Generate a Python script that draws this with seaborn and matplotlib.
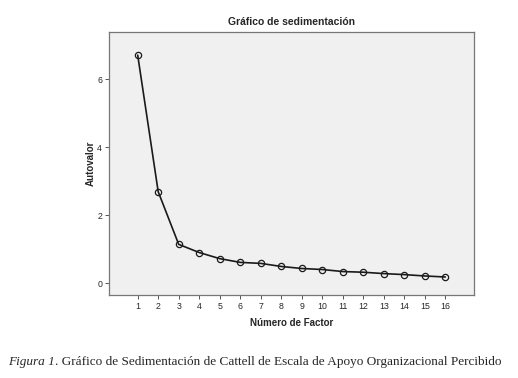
import matplotlib
matplotlib.use("Agg")
import matplotlib.pyplot as plt
import seaborn as sns
import pandas as pd

# datos del grafico de sedimentacion
factores = list(range(1, 17))
autovalores = [6.71, 2.69, 1.14, 0.90, 0.72, 0.61, 0.58, 0.49,
               0.43, 0.40, 0.34, 0.32, 0.28, 0.25, 0.21, 0.18]
y_ticks = [0, 2, 4, 6]

df = pd.DataFrame({"Factor": factores, "Autovalor": autovalores})

sns.set_style("ticks")
plt.rcParams["font.family"] = ["Liberation Sans", "DejaVu Sans"]

fig = plt.figure(figsize=(5.18, 3.78), dpi=100)
ax = fig.add_axes([0.2104, 0.2196, 0.7046, 0.6957])
ax.set_facecolor("#f0f0f0")

sns.lineplot(data=df, x="Factor", y="Autovalor", ax=ax, color="#1a1a1a",
             linewidth=1.2, marker="o", markersize=4.5,
             markerfacecolor="none", markeredgecolor="#1a1a1a",
             markeredgewidth=0.9)

ax.set_xlim(-0.4, 17.4)
ax.set_ylim(-0.35, 7.39)
ax.set_xticks(factores)
ax.set_yticks(y_ticks)
ax.tick_params(axis="both", labelsize=6.3, length=3, width=0.7,
               color="#555555", pad=2)

for s in ax.spines.values():
    s.set_visible(True)
    s.set_color("#777777")
    s.set_linewidth(0.9)

ax.set_title("Gráfico de sedimentación", fontsize=7.5, fontweight="bold", pad=5)
ax.set_xlabel("Número de Factor", fontsize=7, fontweight="bold", labelpad=5)
ax.set_ylabel("Autovalor", fontsize=7, fontweight="bold", labelpad=1)

# pie de figura
t1 = fig.text(8 / 518, 1 - 362 / 378, "Figura 1", fontsize=9.5,
              family="Liberation Serif", style="italic", va="center")
fig.canvas.draw()
bb = t1.get_window_extent()
fig.text(bb.x1 / fig.bbox.width, 1 - 362 / 378,
         ". Gráfico de Sedimentación de Cattell de Escala de Apoyo Organizacional Percibido",
         fontsize=9.5, family="Liberation Serif", va="center")

fig.savefig("out.png", dpi=100)
